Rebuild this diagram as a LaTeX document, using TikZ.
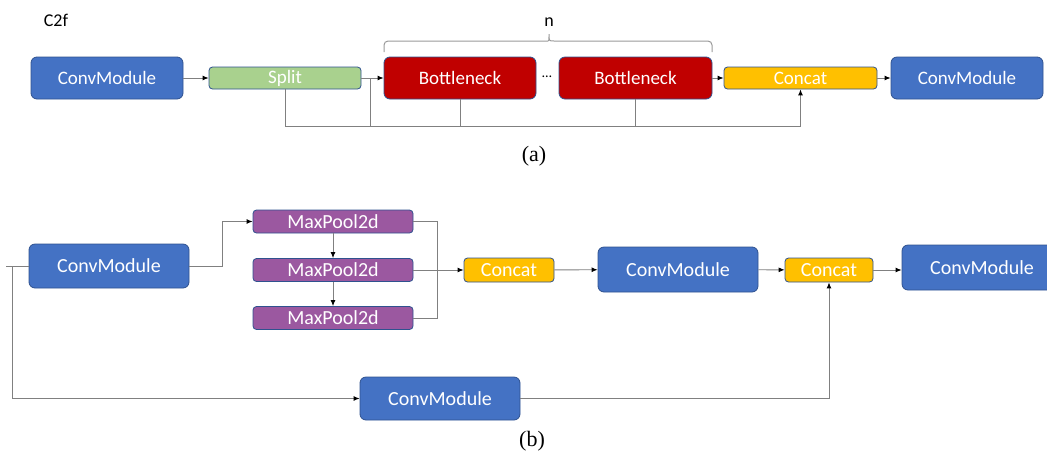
\documentclass[tikz,border=0pt]{standalone}
\usepackage{fontspec}
\setmainfont{Carlito}
\newfontfamily\capfont{Liberation Serif}
\usepackage{tikz}
\usetikzlibrary{arrows.meta}

\definecolor{convblue}{RGB}{68,114,196}
\definecolor{splitgreen}{RGB}{169,209,142}
\definecolor{bottlered}{RGB}{192,0,0}
\definecolor{catyellow}{RGB}{255,192,0}
\definecolor{poolpurple}{RGB}{155,88,160}
\definecolor{edgeblue}{RGB}{47,82,143}
\definecolor{wire}{RGB}{128,128,128}

\begin{document}
\begin{tikzpicture}[x=1pt,y=-1pt]
\tikzstyle{block}=[draw=edgeblue,line width=0.8pt,text=white,inner sep=0pt,font=\fontsize{19}{21}\selectfont];
\tikzstyle{conv}=[block,fill=convblue,rounded corners=6pt,minimum width=152pt,minimum height=42pt];
\tikzstyle{thin}=[block,rounded corners=3.5pt,minimum width=152pt,minimum height=22pt];
\tikzstyle{big}=[font=\fontsize{20}{22}\selectfont];
\tikzstyle{wireline}=[draw=wire,line width=0.9pt];
\tikzstyle{flow}=[wireline,-{Latex[length=6pt,width=5pt,color=black]}];
\tikzstyle{bracket}=[draw=wire!80,line width=1pt];
\useasboundingbox (0,0) rectangle (1047,459);

\node[font=\fontsize{18}{20}\selectfont] (title) at (56,20) {C2f};
\node[conv] (cm1) at (107,78) {ConvModule};
\node[thin,fill=splitgreen] (split) at (285,78) {Split};
\node[conv,fill=bottlered] (bn1) at (460,78) {Bottleneck};
\node[font=\fontsize{14}{16}\selectfont] (dots) at (547,77) {\ldots};
\node[conv,fill=bottlered,minimum width=153pt] (bn2) at (635.5,78) {Bottleneck};
\node[thin,fill=catyellow,minimum width=153pt] (cat1) at (800.5,78) {Concat};
\node[conv] (cm2) at (967,78) {ConvModule};
\node[font=\fontsize{18}{20}\selectfont] (n) at (549,22) {n};
\node[font=\capfont\fontsize{22}{24}\selectfont] (capa) at (534,156) {(a)};

\coordinate (brl) at (384,52);
\coordinate (brt) at (549,34);
\coordinate (brr) at (712,52);
\draw[bracket] (brl) [rounded corners=4pt] |- (544,41) [sharp corners] .. controls (549,41) .. (brt) .. controls (549,41) .. (554,41) [rounded corners=4pt] -| (brr);

\draw[flow] (cm1) -- (split);
\draw[flow] (split) -- (bn1);
\draw[flow] (bn2) -- (cat1);
\draw[flow] (cat1) -- (cm2);
\coordinate (bus) at (285,126);
\coordinate (tap) at (370,78);
\draw[flow] (split.south) -- (bus) -| (cat1.south);
\draw[wireline] (tap) -- (tap |- bus);
\draw[wireline] (bn1.south) -- (bn1.south |- bus);
\draw[wireline] (bn2.south) -- (bn2.south |- bus);

\node[conv,big,minimum width=160pt,minimum height=44pt] (cm3) at (109,266) {ConvModule};
\node[thin,big,fill=poolpurple,minimum width=160pt,minimum height=23pt] (mp1) at (333,221.5) {MaxPool2d};
\node[thin,big,fill=poolpurple,minimum width=160pt,minimum height=23pt] (mp2) at (333,270) {MaxPool2d};
\node[thin,big,fill=poolpurple,minimum width=160pt,minimum height=23pt] (mp3) at (333,318) {MaxPool2d};
\node[thin,big,fill=catyellow,minimum width=90pt,minimum height=24pt] (cat2) at (509,270) {Concat};
\node[conv,big,minimum width=160pt,minimum height=45pt] (cm4) at (678,269.5) {ConvModule};
\node[thin,big,fill=catyellow,minimum width=88pt,minimum height=24pt] (cat3) at (829,270) {Concat};
\node[conv,big,minimum width=160pt,minimum height=45pt] (cm5) at (982,267.5) {ConvModule};
\node[conv,big,minimum width=160pt,minimum height=43pt] (cm6) at (440,398.5) {ConvModule};
\node[font=\capfont\fontsize{22}{24}\selectfont] (capb) at (532,441) {(b)};

\coordinate (in) at (6,266);
\coordinate (fork) at (12,266);
\draw[wireline] (in) -- (cm3.west);
\draw[flow] (fork) |- (cm6.west);
\draw[flow] (cm3.east) -- ++(33,0) |- (mp1.west);
\draw[flow] (mp1) -- (mp2);
\draw[flow] (mp2) -- (mp3);
\draw[wireline] (mp1.east) -- ++(24,0) |- (mp3.east);
\draw[flow] (mp2) -- (cat2);
\draw[flow] (cat2) -- (cm4);
\draw[flow] (cm4) -- (cat3);
\draw[flow] (cat3.east) -- (cat3.east -| cm5.west);
\draw[flow] (cm6.east) -| (cat3.south);
\end{tikzpicture}
\end{document}
